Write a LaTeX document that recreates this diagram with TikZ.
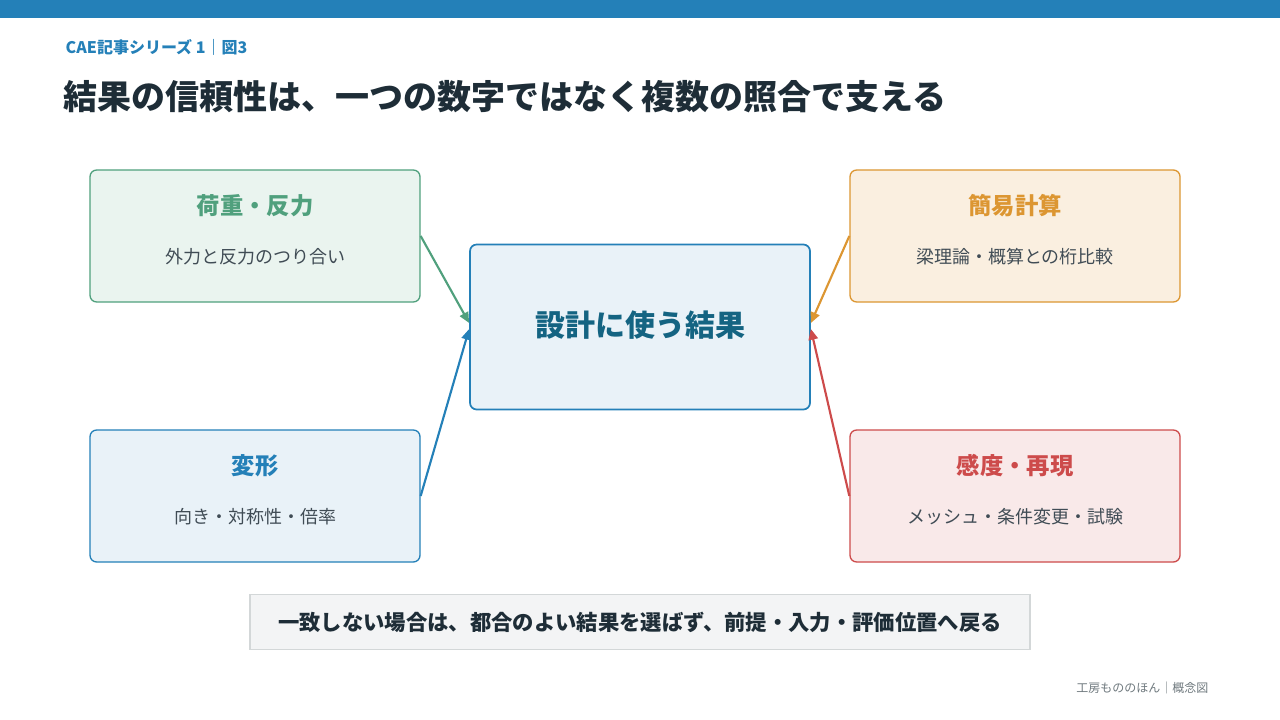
\documentclass[tikz,border=0pt]{standalone}
\usepackage{fontspec}
\setmainfont{Noto Sans CJK JP}
\usetikzlibrary{arrows.meta,positioning}
\definecolor{cblue}{RGB}{36,128,184}
\definecolor{cdark}{RGB}{30,45,55}
\definecolor{cteal}{RGB}{20,100,130}
\definecolor{cgreen}{RGB}{80,160,125}
\definecolor{corange}{RGB}{220,150,50}
\definecolor{cred}{RGB}{205,75,75}
\definecolor{cgray}{RGB}{110,120,125}
\tikzset{
  sidebox/.style={rectangle, rounded corners=5pt, line width=1pt, minimum width=247.5pt, minimum height=99pt},
  boxtitle/.style={font=\fontsize{17.5}{20}\selectfont\bfseries},
  boxtext/.style={font=\fontsize{13.5}{15}\selectfont, text=cdark!85},
  link/.style={line width=1.6pt, -{Triangle[length=8pt,width=7pt]}}
}
\begin{document}
\begin{tikzpicture}[x=0.75pt,y=-0.75pt]
\useasboundingbox (0,0) rectangle (1280,720);
\fill[cblue] (0,0) rectangle (1280,18);

\node[anchor=west, text=cblue, font=\fontsize{12}{14}\selectfont\bfseries] (series) at (61,47) {CAE記事シリーズ 1｜図3};
\node[anchor=west, text=cdark, font=\fontsize{25.5}{28}\selectfont\bfseries] (title) at (59,97) {結果の信頼性は、一つの数字ではなく複数の照合で支える};

% boxes
\node[sidebox, draw=cgreen, fill=cgreen!12] (load) at (255,236) {};
\node[boxtitle, text=cgreen] at (255,206) {荷重・反力};
\node[boxtext] at (255,257) {外力と反力のつり合い};

\node[sidebox, draw=corange, fill=corange!15] (calc) at (1015,236) {};
\node[boxtitle, text=corange] at (1015,206) {簡易計算};
\node[boxtext] at (1015,257) {梁理論・概算との桁比較};

\node[sidebox, draw=cblue, fill=cblue!10] (deform) at (255,496) {};
\node[boxtitle, text=cblue] at (255,466) {変形};
\node[boxtext] at (255,517) {向き・対称性・倍率};

\node[sidebox, draw=cred, fill=cred!12] (sens) at (1015,496) {};
\node[boxtitle, text=cred] at (1015,466) {感度・再現};
\node[boxtext] at (1015,517) {メッシュ・条件変更・試験};

\node[rectangle, rounded corners=5pt, line width=1.3pt, draw=cblue, fill=cblue!10, minimum width=255pt, minimum height=123.75pt] (result) at (640,327) {};
\node[text=cteal, font=\fontsize{22.5}{26}\selectfont\bfseries] at (640,325) {設計に使う結果};

% links
\draw[link, cgreen] (load.east) -- ([yshift=3pt]result.west);
\draw[link, cblue] (deform.east) -- ([yshift=-1.5pt]result.west);
\draw[link, corange] (calc.west) -- ([yshift=3pt]result.east);
\draw[link, cred] (sens.west) -- ([yshift=-1.5pt]result.east);

\node[rectangle, draw=cgray!30, line width=1pt, fill=cgray!8, minimum width=585pt, minimum height=41pt] (note) at (640,622) {};
\node[text=cdark, font=\fontsize{16}{18}\selectfont\bfseries] at (640,622) {一致しない場合は、都合のよい結果を選ばず、前提・入力・評価位置へ戻る};

\node[anchor=east, text=cgray, font=\fontsize{9}{10}\selectfont] (footer) at (1213,688) {工房もののほん｜概念図};
\end{tikzpicture}
\end{document}
